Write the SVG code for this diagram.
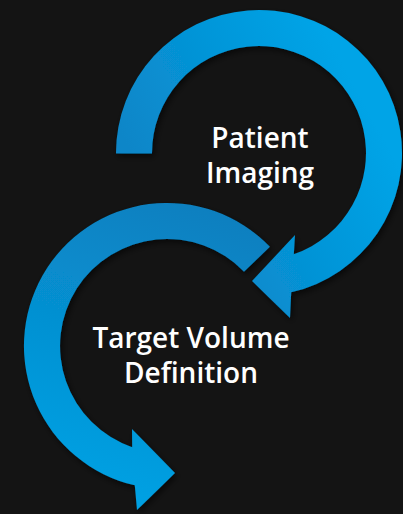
<svg xmlns="http://www.w3.org/2000/svg" width="403" height="514" viewBox="0 0 403 514">
  <defs>
    <linearGradient id="gTop" gradientUnits="userSpaceOnUse" x1="130" y1="150" x2="330" y2="40">
      <stop offset="0" stop-color="#0a86c8"/>
      <stop offset="1" stop-color="#00a4e7"/>
    </linearGradient>
    <linearGradient id="gBot" gradientUnits="userSpaceOnUse" x1="250" y1="220" x2="150" y2="500">
      <stop offset="0" stop-color="#0a7fbf"/>
      <stop offset="1" stop-color="#02a0e2"/>
    </linearGradient>
    <filter id="sh" x="-20%" y="-20%" width="140%" height="140%">
      <feDropShadow dx="2" dy="3" stdDeviation="3" flood-color="#000" flood-opacity="0.6"/>
    </filter>
    <style>
      .lbl { font-family: "Open Sans", "Liberation Sans", sans-serif; font-weight: 600; font-size: 28px; fill: #ffffff; text-anchor: middle; }
    </style>
  </defs>
  <rect x="0" y="0" width="403" height="514" fill="#141414"/>
  <g id="connectors">
    <path id="arrow-top" filter="url(#sh)" fill="url(#gTop)"
      d="M116,153.5 A143,143 0 1 1 291.2,292.3 L290,318 L252,281 L295,235 L293.8,254.2 A107,107 0 1 0 152,153.5 Z"/>
    <path id="arrow-bottom" filter="url(#sh)" fill="url(#gBot)"
      d="M269.9,246.7 A143,143 0 1 0 134.8,485.3 L137,510 L175,473 L132,429 L132.2,447.2 A107,107 0 1 1 244,271.7 Z"/>
  </g>
  <g id="node-patient-imaging">
    <text class="lbl" x="260" y="148">Patient</text>
    <text class="lbl" x="260" y="183">Imaging</text>
  </g>
  <g id="node-target-volume">
    <text class="lbl" x="191" y="348">Target Volume</text>
    <text class="lbl" x="191" y="383">Definition</text>
  </g>
</svg>
